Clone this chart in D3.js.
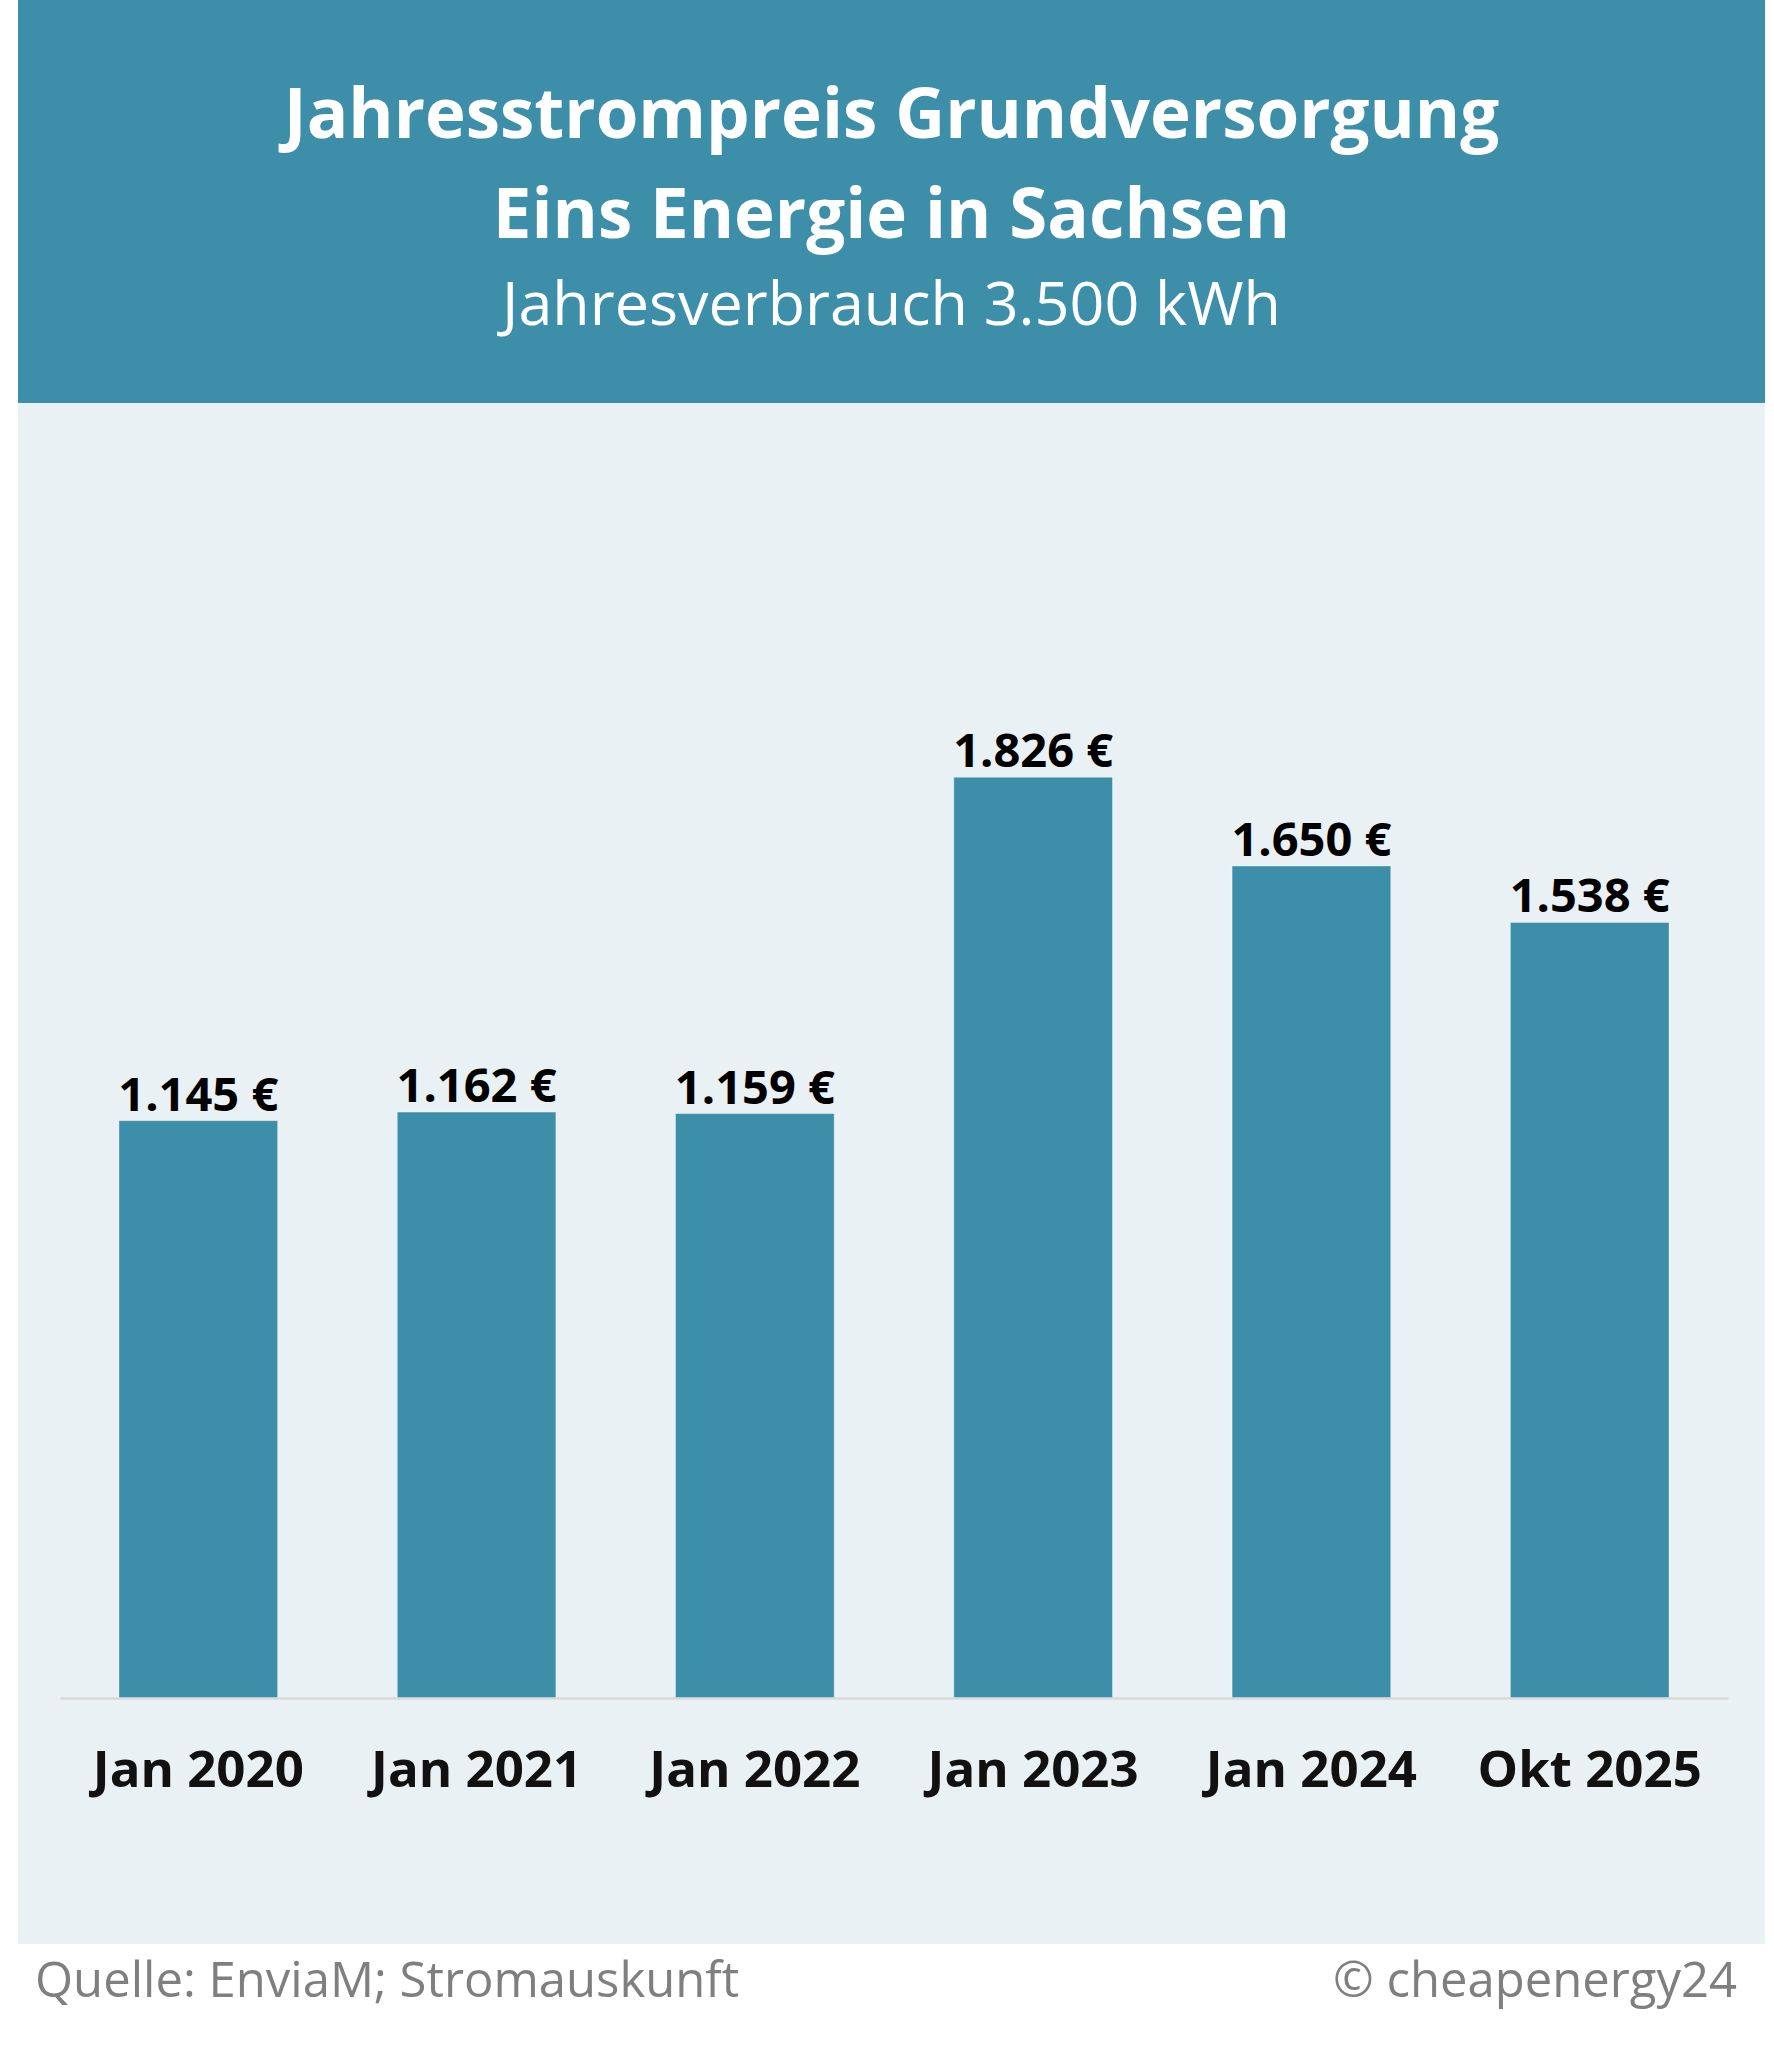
<!DOCTYPE html>
<html>
<head>
<meta charset="utf-8">
<script src="https://cdn.jsdelivr.net/npm/d3@7"></script>
<style>
  html, body { margin: 0; padding: 0; background: #fff; }
  svg { display: block; }
  text { font-family: "Open Sans", "Noto Sans", sans-serif; }
</style>
</head>
<body>
<div id="chart"></div>
<script>
// Chart data
const categories = ["Jan 2020", "Jan 2021", "Jan 2022", "Jan 2023", "Jan 2024", "Okt 2025"];
const prices = [1145, 1162, 1159, 1826, 1650, 1538];
const titleLines = ["Jahresstrompreis Grundversorgung", "Eins Energie in Sachsen"];
const subtitle = "Jahresverbrauch 3.500 kWh";
const sourceText = "Quelle: EnviaM; Stromauskunft";
const copyrightText = "© cheapenergy24";

const width = 1774;
const height = 2048;
const teal = "#3d8ea8";
const panelBg = "#e9f1f4";

const svg = d3.select("#chart")
    .append("svg")
    .attr("width", width)
    .attr("height", height);

// header band
svg.append("rect")
    .attr("x", 18).attr("y", 0)
    .attr("width", 1747).attr("height", 403)
    .attr("fill", teal);

// light chart panel
svg.append("rect")
    .attr("x", 18).attr("y", 403)
    .attr("width", 1747).attr("height", 1541)
    .attr("fill", panelBg);

const cx = 18 + 1747 / 2;

svg.selectAll(".title")
    .data(titleLines)
    .enter().append("text")
    .attr("class", "title")
    .attr("x", cx)
    .attr("y", (d, i) => 138 + i * 100)
    .attr("text-anchor", "middle")
    .attr("font-size", 69)
    .attr("font-weight", 700)
    .attr("fill", "#fff")
    .text(d => d);

svg.append("text")
    .attr("x", cx)
    .attr("y", 325)
    .attr("text-anchor", "middle")
    .attr("font-size", 61)
    .attr("fill", "#fff")
    .text(subtitle);

// scales
const x = d3.scaleBand()
    .domain(categories)
    .range([60, 1728])
    .paddingInner(0.43)
    .paddingOuter(0.212);

const y = d3.scaleLinear()
    .domain([0, 2600])
    .range([1698, 387]);

const data = categories.map((c, i) => ({ cat: c, value: prices[i] }));

// bars
svg.selectAll(".bar")
    .data(data)
    .enter().append("rect")
    .attr("class", "bar")
    .attr("x", d => x(d.cat))
    .attr("y", d => y(d.value))
    .attr("width", x.bandwidth())
    .attr("height", d => y(0) - y(d.value))
    .attr("fill", teal)
    .attr("stroke", "rgba(255,255,255,0.35)")
    .attr("stroke-width", 1);

// baseline + category labels via axis
const xAxis = svg.append("g")
    .attr("transform", `translate(0, ${y(0)})`)
    .call(d3.axisBottom(x).tickSize(0).tickPadding(89));

xAxis.select(".domain")
    .attr("stroke", "#d9d9d9")
    .attr("stroke-width", 2.5);

xAxis.selectAll("text")
    .attr("font-family", "'Open Sans', sans-serif")
    .attr("font-size", 51)
    .attr("font-weight", 700)
    .attr("fill", "#111")
    .attr("dy", 0);

// value labels
svg.selectAll(".value")
    .data(data)
    .enter().append("text")
    .attr("class", "value")
    .attr("x", d => x(d.cat) + x.bandwidth() / 2)
    .attr("y", d => y(d.value) - 10)
    .attr("text-anchor", "middle")
    .attr("font-size", 47)
    .attr("font-weight", 700)
    .attr("fill", "#000")
    .text(d => d3.format(",")(d.value).replace(",", ".") + " €");

// footer
svg.append("text")
    .attr("x", 35)
    .attr("y", 1997)
    .attr("font-size", 49)
    .attr("fill", "#7f7f7f")
    .text(sourceText);

svg.append("text")
    .attr("x", 1737)
    .attr("y", 1997)
    .attr("text-anchor", "end")
    .attr("font-size", 49)
    .attr("fill", "#7f7f7f")
    .text(copyrightText);
</script>
</body>
</html>
